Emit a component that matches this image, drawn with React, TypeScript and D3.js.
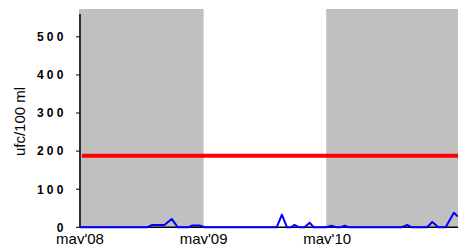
import * as d3 from 'd3'

// months counted from may'08
const monthTicks = [0, 12, 24]
const monthLabels = ["may'08", "may'09", "may'10"]
const yTicks = [0, 100, 200, 300, 400, 500]
const shadedPeriods = [[0, 12], [24, 36.7]]
const limitValue = 188

const sampleMonths = [0, 6.5, 7, 8.2, 8.9, 9.5, 10.5, 10.9, 11.6, 12.1, 19.1, 19.6, 20.1, 20.5, 20.8, 21.3, 21.8, 22.3, 22.7, 23.9, 24.4, 24.9, 25.3, 25.7, 26.1, 31.2, 31.8, 32.2, 33.7, 34.2, 34.8, 35.5, 36.3, 36.7]
const sampleValues = [0, 0, 6, 6, 22, 0, 0, 5, 5, 0, 0, 33, 0, 0, 6, 0, 0, 12, 0, 0, 4, 0, 0, 4, 0, 0, 6, 0, 0, 14, 0, 0, 38, 28]

export default function App() {
  const width = 458
  const height = 244
  const margin = { top: 14, right: 0, bottom: 16.7, left: 80 }

  const x = d3.scaleLinear().domain([0, 36.7]).range([margin.left, width - margin.right])
  const y = d3.scaleLinear().domain([0, 560]).range([height - margin.bottom, margin.top])

  const line = d3
    .line<number>()
    .x((_, i) => x(sampleMonths[i]))
    .y((d) => y(d))

  const font = 'Arial, "Liberation Sans", sans-serif'
  // the tick digits are spread wide, one glyph every ~10px
  const digitPitch = 9.9
  const labelRight = 63.4

  return (
    <svg width={width} height={height} style={{ position: 'absolute', left: 0, top: 0, background: '#fff' }}>
      {shadedPeriods.map(([a, b], i) => (
        <rect key={i} x={x(a) - 1} y={y(573)} width={x(b) - x(a) + 1} height={y(0) - y(573)} fill="#c0c0c0" />
      ))}

      <line x1={x(0)} x2={x(36.7)} y1={y(0)} y2={y(0)} stroke="#000" strokeWidth={1.5} />
      <line x1={x(0)} x2={x(0)} y1={y(0)} y2={y(560)} stroke="#000" strokeWidth={1.5} />

      {yTicks.map((t) => {
        const chars = String(t).split('')
        return (
          <g key={t}>
            <line x1={x(0) - 4} x2={x(0)} y1={y(t)} y2={y(t)} stroke="#000" strokeWidth={1} />
            {chars.map((c, k) => (
              <text
                key={k}
                x={labelRight - (chars.length - 1 - k) * digitPitch}
                y={y(t)}
                dy="0.36em"
                textAnchor="end"
                fontFamily={font}
                fontSize={12}
                fontWeight="bold"
              >
                {c}
              </text>
            ))}
          </g>
        )
      })}

      <line x1={x(0) + 2} x2={x(36.7)} y1={y(limitValue)} y2={y(limitValue)} stroke="#ff0000" strokeWidth={4} />

      <path d={line(sampleValues) || ''} fill="none" stroke="#0000ff" strokeWidth={2} strokeLinejoin="round" />

      {monthTicks.map((m, i) => (
        <text key={m} x={x(m)} y={244} textAnchor="middle" fontFamily={font} fontSize={15}>
          {monthLabels[i]}
        </text>
      ))}

      <text transform={`translate(25,${121.5}) rotate(-90)`} textAnchor="middle" fontFamily={font} fontSize={15}>
        ufc/100 ml
      </text>
    </svg>
  )
}
